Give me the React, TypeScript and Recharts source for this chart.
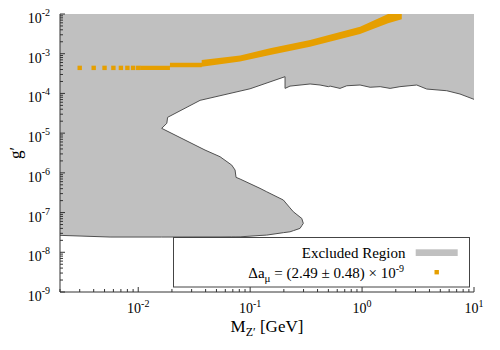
import { Area, ComposedChart, Line, Scatter, XAxis, YAxis } from 'recharts'

const FONT = '"Liberation Serif", "DejaVu Serif", serif'
const GREY = '#c0c0c0'
const ORANGE = '#e69f00'
const OUTLINE = '#505050'

const xDomain: [number, number] = [0.002, 10]
const yDomain: [number, number] = [1e-9, 1e-2]
const xDecades = [0.001, 0.01, 0.1, 1, 10]
const yDecades = [1e-9, 1e-8, 1e-7, 1e-6, 1e-5, 1e-4, 1e-3, 1e-2]
const mantissas = [1, 2, 3, 4, 5, 6, 7, 8, 9]

// lower edge of the big excluded region (top edge is the plot top)
const excludedTop: [number, number][] = [
  [0.002, 2.67e-8],
  [0.0056, 2.42e-8],
  [0.0162, 2.42e-8],
  [0.0162, 1.32e-5],
  [0.018, 1.77e-5],
  [0.0183, 2.5e-5],
  [0.0357, 6.7e-5],
  [0.0998, 1.31e-4],
  [0.205, 2.64e-4],
  [0.205, 1.34e-4],
  [0.227, 1.53e-4],
  [0.343, 1.73e-4],
  [0.421, 1.63e-4],
  [0.5, 1.48e-4],
  [0.518, 1.53e-4],
  [0.635, 1.34e-4],
  [0.73, 1.56e-4],
  [0.959, 1.63e-4],
  [1.18, 1.43e-4],
  [1.45, 1.48e-4],
  [1.78, 1.34e-4],
  [2.18, 1.48e-4],
  [3.08, 1.63e-4],
  [3.78, 1.29e-4],
  [5.71, 1.17e-4],
  [7.5, 9.66e-5],
  [10, 7.1e-5],
]

// lower lobe: [mass, lower edge, upper edge]
const excludedLobe: [number, number, number][] = [
  [0.002, 2.67e-8, 1.32e-5],
  [0.0056, 2.42e-8, 1.32e-5],
  [0.0162, 2.42e-8, 1.32e-5],
  [0.0395, 2.43e-8, 3.75e-6],
  [0.0538, 2.43e-8, 2.55e-6],
  [0.0684, 2.44e-8, 1.57e-6],
  [0.0733, 2.44e-8, 1.18e-6],
  [0.0748, 2.44e-8, 7.7e-7],
  [0.0813, 2.45e-8, 6.98e-7],
  [0.1225, 2.65e-8, 4.07e-7],
  [0.1406, 2.71e-8, 3.34e-7],
  [0.198, 3.12e-8, 2.07e-7],
  [0.227, 3.28e-8, 1.31e-7],
  [0.243, 3.5e-8, 1.05e-7],
  [0.279, 4.0e-8, 7.7e-8],
  [0.289, 4.66e-8, 7.15e-8],
  [0.2985, 5.35e-8, 5.35e-8],
]

// Delta a_mu band: isolated points at low mass, dense band above
const deltaPointsX = [0.003, 0.004, 0.005, 0.006, 0.007, 0.008, 0.009, 0.01]
const deltaPointsY = [4.4e-4, 4.4e-4, 4.4e-4, 4.4e-4, 4.4e-4, 4.4e-4, 4.4e-4, 4.4e-4]
const deltaBand: [number, number, number][] = [
  [0.0104, 3.89e-4, 4.99e-4],
  [0.0192, 3.89e-4, 4.99e-4],
  [0.0192, 4.54e-4, 5.93e-4],
  [0.0369, 4.54e-4, 5.93e-4],
  [0.0369, 4.7e-4, 6.93e-4],
  [0.0813, 6.36e-4, 9.01e-4],
  [0.1506, 9.27e-4, 1.37e-3],
  [0.343, 1.5e-3, 2.21e-3],
  [0.959, 3.13e-3, 4.79e-3],
  [1.707, 5.83e-3, 1e-2],
  [2.263, 7.35e-3, 1e-2],
]

function buildTicks(decades: number[], domain: [number, number]) {
  return decades
    .flatMap((d) => mantissas.map((m) => m * d))
    .filter((v) => v >= domain[0] * 0.999 && v <= domain[1] * 1.001)
}

const xTicks = buildTicks(xDecades, xDomain)
const yTicks = buildTicks(yDecades, yDomain)

const topData = excludedTop.map(([x, lo]) => ({ x, range: [lo, yDomain[1]] }))
const lobeData = excludedLobe.map(([x, lo, hi]) => ({ x, range: [lo, hi] }))
const bandData = deltaBand.map(([x, lo, hi]) => ({ x, range: [lo, hi] }))
const pointData = deltaPointsX.map((x, i) => ({ x, y: deltaPointsY[i] }))
const outlineData = [
  ...excludedLobe.map(([x, lo]) => ({ x, y: lo })),
  ...excludedLobe
    .slice(2, -1)
    .reverse()
    .map(([x, , hi]) => ({ x, y: hi })),
  ...excludedTop.slice(4).map(([x, y]) => ({ x, y })),
]

function isMajor(v: number) {
  const l = Math.log10(v)
  return Math.abs(l - Math.round(l)) < 1e-6
}

function AxisTick({ x, y, payload, side }: any) {
  const v = payload?.value as number
  const major = isMajor(v)
  const len = major ? 5 : 3
  const exp = Math.round(Math.log10(v))
  const stroke = side === 'bottom' || side === 'left' ? '#333' : '#777'
  if (side === 'bottom' || side === 'top') {
    const dir = side === 'bottom' ? -1 : 1
    return (
      <g>
        <line x1={x} x2={x} y1={y} y2={y + dir * len} stroke={stroke} strokeWidth={1} />
        {side === 'bottom' && major ? (
          <text x={x} y={y + 20.5} textAnchor="middle" fontSize={14} fontFamily={FONT} fill="#000">
            10
            <tspan dy={-6} fontSize={10}>
              {exp}
            </tspan>
          </text>
        ) : null}
      </g>
    )
  }
  const dir = side === 'left' ? 1 : -1
  return (
    <g>
      <line x1={x} x2={x + dir * len} y1={y} y2={y} stroke={stroke} strokeWidth={1} />
      {side === 'left' && major ? (
        <text x={x - 10} y={y + 9} textAnchor="end" fontSize={14} fontFamily={FONT} fill="#000">
          10
          <tspan dy={-7} fontSize={10}>
            {exp}
          </tspan>
        </text>
      ) : null}
    </g>
  )
}

function XTitle({ viewBox }: any) {
  const cx = viewBox.x + viewBox.width / 2
  return (
    <text x={cx} y={viewBox.y + 40} textAnchor="middle" fontSize={17} fontFamily={FONT} fill="#000">
      M
      <tspan dy={4} fontSize={12}>
        Z′
      </tspan>
      <tspan dy={-4} fontSize={17}>
        {' [GeV]'}
      </tspan>
    </text>
  )
}

function YTitle({ viewBox }: any) {
  const cx = viewBox.x + 21
  const cy = viewBox.y + viewBox.height / 2
  return (
    <text
      x={cx}
      y={cy}
      transform={`rotate(-90 ${cx} ${cy})`}
      textAnchor="middle"
      fontSize={17}
      fontFamily={FONT}
      fill="#000"
    >
      g′
    </text>
  )
}

function LegendBox() {
  return (
    <svg width={500} height={350} style={{ position: 'absolute', left: 0, top: 0, pointerEvents: 'none' }}>
      <rect x={173.5} y={237.5} width={296} height={49.5} fill="#fff" stroke="#444" strokeWidth={1} />
      <text x={405.5} y={257.5} textAnchor="end" fontSize={15} fontFamily={FONT} fill="#000">
        Excluded Region
      </text>
      <rect x={415.7} y={249.3} width={42} height={6.7} fill={GREY} />
      <text x={404} y={277.5} textAnchor="end" fontSize={15} fontFamily={FONT} fill="#000">
        Δa
        <tspan dy={4} fontSize={11}>
          μ
        </tspan>
        <tspan dy={-4} fontSize={15}>
          {' = (2.49 ± 0.48) × 10'}
        </tspan>
        <tspan dy={-6} fontSize={10}>
          -9
        </tspan>
      </text>
      <rect x={434.5} y={270} width={4.4} height={4.4} fill={ORANGE} />
    </svg>
  )
}

export default function App() {
  return (
    <div style={{ position: 'relative', width: 500, height: 350, fontFamily: FONT }}>
      <style>{'body{margin:0}'}</style>
      <ComposedChart width={500} height={350} margin={{ top: 14, right: 26, bottom: 0, left: 0 }}>
        <Area
          data={topData}
          dataKey="range"
          type="linear"
          stroke="none"
          fill={GREY}
          fillOpacity={1}
          isAnimationActive={false}
        />
        <Area
          data={lobeData}
          dataKey="range"
          type="linear"
          stroke="none"
          fill={GREY}
          fillOpacity={1}
          isAnimationActive={false}
        />
        <Line
          data={outlineData}
          dataKey="y"
          type="linear"
          stroke={OUTLINE}
          strokeWidth={1}
          dot={false}
          isAnimationActive={false}
        />
        <Area
          data={bandData}
          dataKey="range"
          type="linear"
          stroke="none"
          fill={ORANGE}
          fillOpacity={1}
          isAnimationActive={false}
        />
        <Scatter
          data={pointData}
          dataKey="y"
          fill={ORANGE}
          isAnimationActive={false}
          shape={(p: any) => <rect x={p.cx - 2.2} y={p.cy - 2.2} width={4.4} height={4.4} fill={ORANGE} />}
        />
        <XAxis
          dataKey="x"
          type="number"
          scale="log"
          domain={xDomain}
          allowDataOverflow
          ticks={xTicks}
          interval={0}
          height={58}
          tickSize={0}
          tickMargin={0}
          tickLine={false}
          axisLine={{ stroke: '#333' }}
          tick={(p: any) => <AxisTick {...p} side="bottom" />}
          label={(p: any) => <XTitle {...p} />}
        />
        <XAxis
          xAxisId="top"
          orientation="top"
          dataKey="x"
          type="number"
          scale="log"
          domain={xDomain}
          allowDataOverflow
          ticks={xTicks}
          interval={0}
          height={0}
          tickSize={0}
          tickMargin={0}
          tickLine={false}
          axisLine={{ stroke: '#777' }}
          tick={(p: any) => <AxisTick {...p} side="top" />}
        />
        <YAxis
          type="number"
          scale="log"
          domain={yDomain}
          allowDataOverflow
          ticks={yTicks}
          interval={0}
          width={60}
          tickSize={0}
          tickMargin={0}
          tickLine={false}
          axisLine={{ stroke: '#333' }}
          tick={(p: any) => <AxisTick {...p} side="left" />}
          label={(p: any) => <YTitle {...p} />}
        />
        <YAxis
          yAxisId="right"
          orientation="right"
          type="number"
          scale="log"
          domain={yDomain}
          allowDataOverflow
          ticks={yTicks}
          interval={0}
          width={0}
          tickSize={0}
          tickMargin={0}
          tickLine={false}
          axisLine={{ stroke: '#777' }}
          tick={(p: any) => <AxisTick {...p} side="right" />}
        />
      </ComposedChart>
      <LegendBox />
    </div>
  )
}
